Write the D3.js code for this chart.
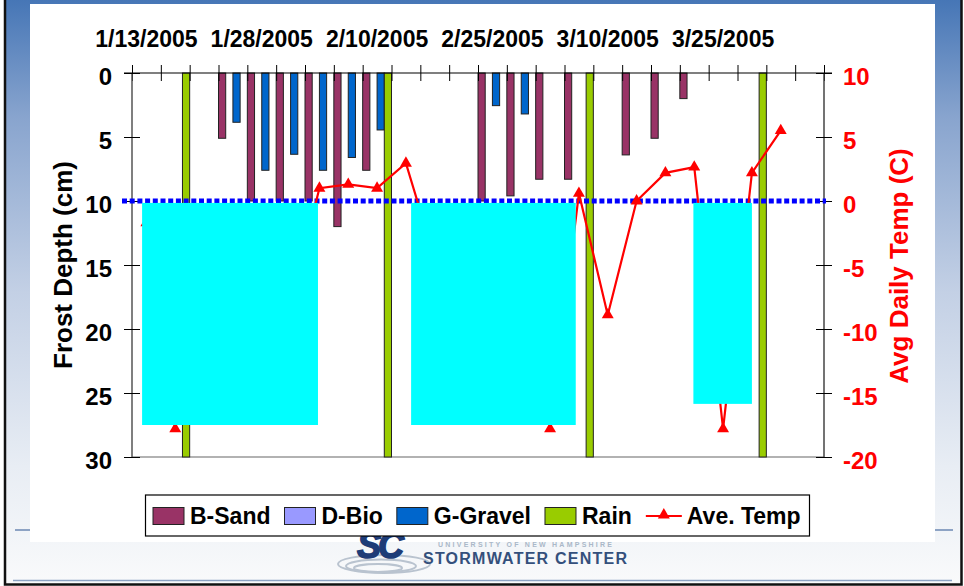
<!DOCTYPE html>
<html>
<head>
<meta charset="utf-8">
<script src="https://cdn.jsdelivr.net/npm/d3@7"></script>
<style>
  html, body { margin: 0; padding: 0; background: #fff; }
  svg { display: block; font-family: "Liberation Sans", Arial, sans-serif; }
</style>
</head>
<body>
<svg id="chart" width="964" height="586"></svg>
<script>
// ---- data ----------------------------------------------------------------
// one slot per sampling date; only every fourth date is printed
const dateLabels = [
  "1/13/2005", "", "", "", "1/28/2005", "", "", "",
  "2/10/2005", "", "", "", "2/25/2005", "", "", "",
  "3/10/2005", "", "", "", "3/25/2005", "", "", ""
];
const seriesNames = ["B-Sand", "D-Bio", "G-Gravel", "Rain"];

// frost depth (cm) per cell
const bSand   = [null, null, null, 5.1, 10, 10, 10, 12.0, 7.6, null, null, null,
                 10, 9.6, 8.3, 8.3, null, 6.4, 5.1, 2.0, null, null, null, null];
const dBio    = [null, null, null, null, null, null, null, null, null, null, null, null,
                 null, null, null, null, null, null, null, null, null, null, null, null];
const gGravel = [null, null, null, 3.85, 7.6, 6.35, 7.6, 6.6, 4.45, null, null, null,
                 2.55, 3.2, null, null, null, null, null, null, null, null, null, null];
// rain events, drawn full height
const rain    = [null, 30, null, null, null, null, null, null, 30, null, null, null,
                 null, null, null, 30, null, null, null, null, null, 30, null, null];
// average daily air temperature (C)
const aveTemp = [-1.7, -17.8, null, null, null, -8.0, 1.0, 1.3, 1.0, 2.95, -4.5, null,
                 null, null, -17.8, 0.6, -8.9, 0.0, 2.2, 2.65, -17.8, 2.2, 5.5, null];

const depthTicks = [0, 5, 10, 15, 20, 25, 30];
const tempTicks  = [10, 5, 0, -5, -10, -15, -20];
const frostLineDepth = 10;
// frozen periods: slot range and depth range
const frozenFrom   = [-0.15, 9.18, 18.97];
const frozenTo     = [5.95, 14.89, 21.0];
const frozenTop    = [10.15, 10.15, 10.15];
const frozenBottom = [27.5, 27.5, 25.85];

// ---- styles --------------------------------------------------------------
const colors = { "B-Sand": "#993366", "D-Bio": "#9999ff", "G-Gravel": "#0066cc", "Rain": "#99cc00" };
const tempColor = "#ff0000";
const barValues = { "B-Sand": bSand, "D-Bio": dBio, "G-Gravel": gGravel, "Rain": rain };
const markerSize = 62;

const W = 964, H = 586;
const plot = { left: 132, right: 824, top: 73, bottom: 457 };
const svg = d3.select("#chart");

// ---- slide background ----------------------------------------------------
const defs = svg.append("defs");
const grad = defs.append("linearGradient").attr("id", "slideBg")
  .attr("x1", 0).attr("y1", 0).attr("x2", 0).attr("y2", 1);
[[0, "#4676b6"], [0.2, "#88a4ce"], [0.5, "#c3d0e5"], [0.8, "#e8edf4"], [1, "#f9fafb"]]
  .forEach(([o, c]) => grad.append("stop").attr("offset", o).attr("stop-color", c));

svg.append("rect").attr("width", W).attr("height", H).attr("fill", "#fff");
svg.append("rect").attr("x", 6).attr("y", 0).attr("width", 955).attr("height", 583)
  .attr("fill", "url(#slideBg)");
svg.append("line").attr("x1", 15).attr("x2", 953).attr("y1", 530).attr("y2", 530)
  .attr("stroke", "#8da3c4").attr("stroke-width", 2);
svg.append("line").attr("x1", 13).attr("x2", 952).attr("y1", 580.5).attr("y2", 580.5)
  .attr("stroke", "#8da3c4").attr("stroke-width", 1.5);
svg.append("path").attr("d", "M5,0V584.5H961.5V0").attr("fill", "none")
  .attr("stroke", "#111").attr("stroke-width", 2.5);

// chart area
svg.append("rect").attr("x", 30).attr("y", 4).attr("width", 905).attr("height", 538).attr("fill", "#fff");

// footer logo
const logo = svg.append("g");
[[384, 564, 46, 9], [381, 566, 35, 6.5], [378, 568, 24, 4]].forEach(([cx, cy, rx, ry]) =>
  logo.append("ellipse").attr("cx", cx).attr("cy", cy).attr("rx", rx).attr("ry", ry)
    .attr("fill", "none").attr("stroke", "#b9c3cf").attr("stroke-width", 2));
logo.append("text").attr("x", 357).attr("y", 558).attr("font-size", 36).attr("font-weight", "900")
  .attr("font-style", "italic").attr("letter-spacing", -3).attr("fill", "#1e3c77")
  .attr("stroke", "#1e3c77").attr("stroke-width", 1.5).text("SC");
logo.append("text").attr("x", 438).attr("y", 546.5).attr("font-size", 7).attr("font-weight", "bold")
  .attr("fill", "#aab8c8").attr("textLength", 174).text("UNIVERSITY OF NEW HAMPSHIRE");
logo.append("text").attr("x", 423).attr("y", 564).attr("font-size", 16).attr("font-weight", "bold")
  .attr("fill", "#34507c").attr("textLength", 204).text("STORMWATER CENTER");

// ---- scales --------------------------------------------------------------
const idx = dateLabels.map((d, i) => i);
const x = d3.scaleBand().domain(idx).range([plot.left, plot.right]).padding(0);
const xs = d3.scaleBand().domain(seriesNames).range([0, x.bandwidth()]).padding(0);
const slot = d3.scaleLinear().domain([-0.5, idx.length - 0.5]).range([plot.left, plot.right]);
const yDepth = d3.scaleLinear().domain([0, 30]).range([plot.top, plot.bottom]);
const yTemp = d3.scaleLinear().domain([-20, 10]).range([plot.bottom, plot.top]);

// plot floor
svg.append("line").attr("x1", plot.left).attr("x2", plot.right)
  .attr("y1", plot.bottom).attr("y2", plot.bottom).attr("stroke", "#999").attr("stroke-width", 1.5);

// ---- bars ----------------------------------------------------------------
const barRows = [];
seriesNames.forEach(name => barValues[name].forEach((v, i) => {
  if (v != null) barRows.push({ name, i, v });
}));
svg.append("g").selectAll("rect").data(barRows).join("rect")
  .attr("x", d => x(d.i) + xs(d.name))
  .attr("width", xs.bandwidth())
  .attr("y", yDepth(0))
  .attr("height", d => yDepth(d.v) - yDepth(0))
  .attr("fill", d => colors[d.name])
  .attr("stroke", "#222").attr("stroke-width", 1);

// ---- axes ----------------------------------------------------------------
const fontSize = 23;
const plain = d => String(d);   // keep ASCII hyphen for negatives
function crossTicks(g, dir) {
  g.select(".domain").remove();
  g.selectAll(".tick line").attr("stroke", "#000")
    .attr(dir === "h" ? "x1" : "y1", -8).attr(dir === "h" ? "x2" : "y2", 8);
}

// category boundaries on top
svg.append("g").attr("transform", `translate(0,${plot.top})`)
  .call(d3.axisTop(slot).tickValues(d3.range(-0.5, idx.length)).tickSize(8).tickFormat(""))
  .call(g => crossTicks(g, "v"));
svg.append("line").attr("x1", plot.left - 8).attr("x2", plot.right + 8)
  .attr("y1", plot.top).attr("y2", plot.top).attr("stroke", "#000").attr("stroke-width", 1.2);

// date labels
svg.append("g").attr("transform", `translate(0,${plot.top})`)
  .call(d3.axisTop(x).tickValues(idx.filter(i => dateLabels[i])).tickSize(0).tickPadding(26)
    .tickFormat(i => dateLabels[i]))
  .call(g => g.select(".domain").remove())
  .call(g => g.selectAll("text").attr("font-size", fontSize).attr("font-weight", "bold")
    .attr("font-family", "Liberation Sans, Arial, sans-serif").attr("fill", "#000"));

// left depth axis
svg.append("line").attr("x1", plot.left).attr("x2", plot.left)
  .attr("y1", plot.top).attr("y2", plot.bottom).attr("stroke", "#555").attr("stroke-width", 1.5);
svg.append("g").attr("transform", `translate(${plot.left},0)`)
  .call(d3.axisLeft(yDepth).tickValues(depthTicks).tickSize(8).tickPadding(12).tickFormat(plain))
  .call(g => crossTicks(g, "h"))
  .call(g => g.selectAll("text").attr("font-size", 24).attr("font-weight", "bold")
    .attr("font-family", "Liberation Sans, Arial, sans-serif").attr("fill", "#000").attr("dy", "0.48em"));

// right temperature axis
svg.append("line").attr("x1", plot.right).attr("x2", plot.right)
  .attr("y1", plot.top).attr("y2", plot.bottom).attr("stroke", "#444").attr("stroke-width", 1.5);
svg.append("g").attr("transform", `translate(${plot.right},0)`)
  .call(d3.axisRight(yTemp).tickValues(tempTicks).tickSize(8).tickPadding(11).tickFormat(plain))
  .call(g => crossTicks(g, "h"))
  .call(g => g.selectAll("text").attr("font-size", 24).attr("font-weight", "bold")
    .attr("font-family", "Liberation Sans, Arial, sans-serif").attr("fill", tempColor).attr("dy", "0.48em"));

// axis titles
const midY = (plot.top + plot.bottom) / 2;
svg.append("text").attr("transform", `translate(72,${midY}) rotate(-90)`)
  .attr("text-anchor", "middle").attr("font-size", 26).attr("font-weight", "bold")
  .attr("fill", "#000").text("Frost Depth (cm)");
svg.append("text").attr("transform", `translate(908,${midY + 1}) rotate(-90)`)
  .attr("text-anchor", "middle").attr("font-size", 26).attr("font-weight", "bold")
  .attr("fill", tempColor).text("Avg Daily Temp (C)");

// ---- frost reference line -----------------------------------------------
svg.append("line").attr("x1", plot.left - 10).attr("x2", plot.right + 2)
  .attr("y1", yDepth(frostLineDepth)).attr("y2", yDepth(frostLineDepth))
  .attr("stroke", "#0000ff").attr("stroke-width", 5).attr("stroke-dasharray", "5,2.7");

// ---- temperature line ----------------------------------------------------
const tempPts = aveTemp.map((v, i) => ({ i, v }));
svg.append("path").datum(tempPts)
  .attr("d", d3.line().defined(d => d.v != null)
    .x(d => x(d.i) + x.bandwidth() / 2).y(d => yTemp(d.v)))
  .attr("fill", "none").attr("stroke", tempColor).attr("stroke-width", 2.2);
svg.append("g").selectAll("path").data(tempPts.filter(d => d.v != null)).join("path")
  .attr("transform", d => `translate(${x(d.i) + x.bandwidth() / 2},${yTemp(d.v)})`)
  .attr("d", d3.symbol(d3.symbolTriangle, markerSize))
  .attr("fill", tempColor);

// ---- frozen-period blocks --------------------------------------------------
svg.append("g").selectAll("rect").data(frozenFrom.map((f, k) => k)).join("rect")
  .attr("x", k => slot(frozenFrom[k]))
  .attr("width", k => slot(frozenTo[k]) - slot(frozenFrom[k]))
  .attr("y", k => yDepth(frozenTop[k]))
  .attr("height", k => yDepth(frozenBottom[k]) - yDepth(frozenTop[k]))
  .attr("fill", "#00ffff");

// ---- legend --------------------------------------------------------------
const legend = svg.append("g");
legend.append("rect").attr("x", 145.5).attr("y", 495).attr("width", 664).attr("height", 41)
  .attr("fill", "#fff").attr("stroke", "#000").attr("stroke-width", 1.2);
let lx = 153;
const legendNames = [...seriesNames, "Ave. Temp"];
legendNames.forEach(name => {
  if (name === "Ave. Temp") {
    legend.append("line").attr("x1", lx).attr("x2", lx + 36).attr("y1", 516).attr("y2", 516)
      .attr("stroke", tempColor).attr("stroke-width", 2.2);
    legend.append("path").attr("transform", `translate(${lx + 18},515)`)
      .attr("d", d3.symbol(d3.symbolTriangle, markerSize)).attr("fill", tempColor);
    lx += 41;
  } else {
    legend.append("rect").attr("x", lx).attr("y", 507.5).attr("width", 31).attr("height", 17)
      .attr("fill", colors[name]).attr("stroke", "#222").attr("stroke-width", 1);
    lx += 37;
  }
  const t = legend.append("text").attr("x", lx).attr("y", 524).attr("font-size", fontSize)
    .attr("font-weight", "bold").attr("fill", "#000").text(name);
  lx += t.node().getComputedTextLength() + 14;
});
</script>
</body>
</html>
